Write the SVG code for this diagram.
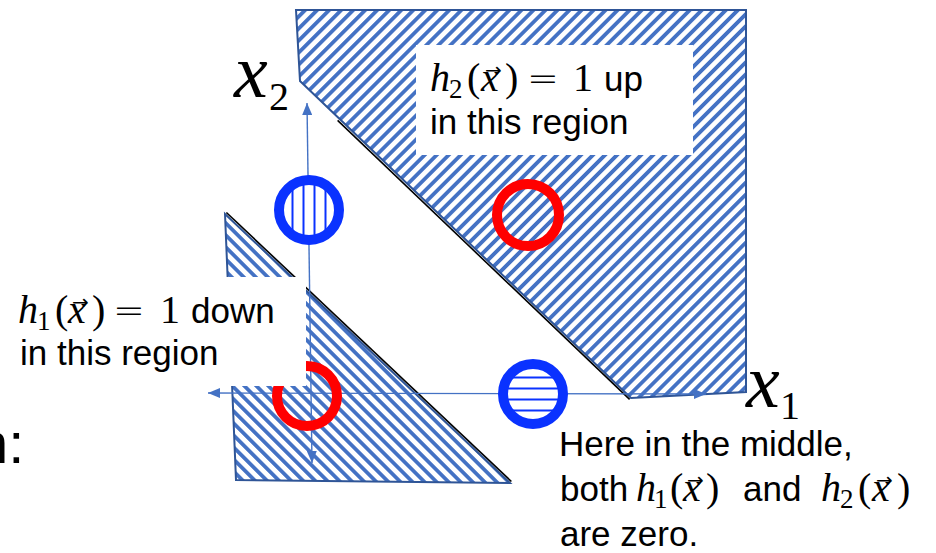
<svg xmlns="http://www.w3.org/2000/svg" width="936" height="553" viewBox="0 0 936 553">
<style>
.t{font-family:"Liberation Sans",Arial,sans-serif;font-size:35px;fill:#000}
.mi{font-family:"Liberation Serif","Times New Roman",serif;font-style:italic;font-size:40px}
.mr{font-family:"Liberation Serif","Times New Roman",serif;font-style:normal;font-size:40px}
.sub{font-family:"Liberation Serif","Times New Roman",serif;font-style:normal;font-size:27px}
.eq{font-family:"DejaVu Sans",sans-serif;font-style:normal;font-weight:200;font-size:38px}
.vec{font-family:"DejaVu Sans",sans-serif;font-style:normal;font-size:20px}
.big{font-family:"Liberation Serif","Times New Roman",serif;font-style:italic;font-size:76px}
.bigsub{font-family:"Liberation Serif","Times New Roman",serif;font-size:40px}
.region{stroke:#2F5597;stroke-width:2}
.edge{stroke:#000;stroke-width:1.6;fill:none}
.axis{stroke:#4472C4;stroke-width:1.4;fill:none;marker-start:url(#ah);marker-end:url(#ah)}
.ring{fill:none;stroke:#0A32FF;stroke-width:10}
.red{fill:none;stroke:#FF0000;stroke-width:10}
.bl{stroke:#0A32FF;stroke-width:2}
.box{fill:#fff}
</style>
<defs>
<pattern id="hUp" patternUnits="userSpaceOnUse" width="8.5" height="10" patternTransform="rotate(45)">
<rect width="8.5" height="10" fill="#fff"/>
<rect width="3.8" height="10" fill="#4472C4"/>
</pattern>
<pattern id="hDown" patternUnits="userSpaceOnUse" width="8.5" height="10" patternTransform="rotate(-45)">
<rect width="8.5" height="10" fill="#fff"/>
<rect width="3.8" height="10" fill="#4472C4"/>
</pattern>
<marker id="ah" viewBox="0 0 12 10" refX="12" refY="5" markerWidth="12" markerHeight="10" markerUnits="userSpaceOnUse" orient="auto-start-reverse">
<path d="M0,0 L12,5 L0,10 z" fill="#4472C4"/>
</marker>
</defs>
<rect width="936" height="553" fill="#fff"/>

<g id="region-h2">
<polygon class="region" fill="url(#hUp)" points="296,10 746,10 746,392 631,398 300,81"/>
<line class="edge" x1="337.6" y1="120.4" x2="629.6" y2="399.4"/>
</g>
<g id="region-h1">
<polygon class="region" fill="url(#hDown)" points="225,214 510,483 236,480"/>
<line class="edge" x1="226.4" y1="212.5" x2="511.4" y2="481.5"/>
</g>

<g id="connectors">
<line class="axis" x1="307" y1="103" x2="312" y2="463"/>
<line class="axis" x1="208" y1="393" x2="706" y2="394"/>
</g>

<g id="point-blue-vertical">
<circle cx="309" cy="210" r="26" fill="#fff"/>
<line class="bl" x1="292.5" y1="190" x2="292.5" y2="230"/>
<line class="bl" x1="303.5" y1="184" x2="303.5" y2="236"/>
<line class="bl" x1="314.5" y1="184" x2="314.5" y2="236"/>
<line class="bl" x1="325.5" y1="190" x2="325.5" y2="230"/>
<circle class="ring" cx="309" cy="210" r="30"/>
</g>
<g id="point-blue-horizontal">
<circle cx="533" cy="394" r="26" fill="#fff"/>
<line class="bl" x1="511" y1="377.5" x2="555" y2="377.5"/>
<line class="bl" x1="506" y1="388.5" x2="560" y2="388.5"/>
<line class="bl" x1="506" y1="399.5" x2="560" y2="399.5"/>
<line class="bl" x1="511" y1="410.5" x2="555" y2="410.5"/>
<circle class="ring" cx="533" cy="394" r="30"/>
</g>
<g id="point-red-upper">
<circle class="red" cx="528" cy="215" r="31"/>
</g>
<g id="point-red-lower">
<circle class="red" cx="307" cy="396" r="30"/>
</g>

<g id="label-h2">
<rect class="box" x="416" y="45" width="277" height="110"/>
<text class="t" y="91"><tspan class="mi" x="430">h</tspan><tspan class="sub" x="449" y="98">2</tspan><tspan class="mr" x="467" y="91">(</tspan><tspan class="mi" x="481" y="91">x</tspan><tspan class="vec" x="485" y="76.5">→</tspan><tspan class="mr" x="505" y="91">)</tspan><tspan class="eq" x="527" y="91">=</tspan><tspan class="mr" x="573" y="91">1</tspan><tspan x="604" y="91">up</tspan></text>
<text class="t" x="430" y="134">in this region</text>
</g>

<g id="label-h1">
<rect class="box" x="0" y="277" width="306" height="109"/>
<text class="t" y="323"><tspan class="mi" x="18">h</tspan><tspan class="sub" x="37" y="330">1</tspan><tspan class="mr" x="55" y="323">(</tspan><tspan class="mi" x="68" y="323">x</tspan><tspan class="vec" x="72" y="308.5">→</tspan><tspan class="mr" x="92" y="323">)</tspan><tspan class="eq" x="113" y="323">=</tspan><tspan class="mr" x="160" y="323">1</tspan><tspan x="191" y="323">down</tspan></text>
<text class="t" x="20" y="365">in this region</text>
</g>

<g id="label-axes">
<text class="big" x="234" y="97">x</text>
<text class="bigsub" x="269" y="110">2</text>
<text class="big" x="746" y="407">x</text>
<text class="bigsub" x="780" y="419">1</text>
</g>

<g id="label-middle">
<text class="t" x="559" y="456">Here in the middle,</text>
<text class="t" y="501"><tspan x="560">both</tspan><tspan class="mi" x="636">h</tspan><tspan class="sub" x="654" y="508">1</tspan><tspan class="mr" x="670" y="501">(</tspan><tspan class="mi" x="683" y="501">x</tspan><tspan class="vec" x="687" y="486.5">→</tspan><tspan class="mr" x="706" y="501">)</tspan><tspan x="743" y="501">and</tspan><tspan class="mi" x="821" y="501">h</tspan><tspan class="sub" x="840" y="508">2</tspan><tspan class="mr" x="858" y="501">(</tspan><tspan class="mi" x="872" y="501">x</tspan><tspan class="vec" x="876" y="486.5">→</tspan><tspan class="mr" x="897" y="501">)</tspan></text>
<text class="t" x="560" y="546">are zero.</text>
</g>

<text class="t" x="-24" y="463" style="font-size:58px">n:</text>
</svg>
